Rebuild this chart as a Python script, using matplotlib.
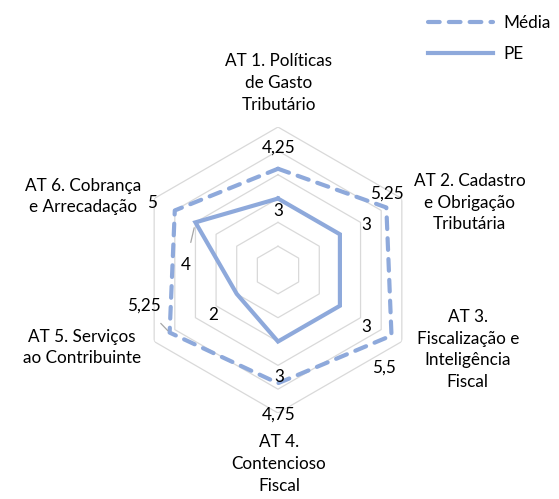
import numpy as np
import matplotlib.pyplot as plt

# dados
categorias = ["AT 1. Políticas\nde Gasto\nTributário",
              "AT 2. Cadastro\ne Obrigação\nTributária",
              "AT 3.\nFiscalização e\nInteligência\nFiscal",
              "AT 4.\nContencioso\nFiscal",
              "AT 5. Serviços\nao Contribuinte",
              "AT 6. Cobrança\ne Arrecadação"]
media = [4.25, 5.25, 5.5, 4.75, 5.25, 5]
pe = [3, 3, 3, 3, 2, 4]
media_txt = ["4,25", "5,25", "5,5", "4,75", "5,25", "5"]
pe_txt = ["3", "3", "3", "3", "2", "4"]
aneis = [1, 2, 3, 4, 5, 6]

plt.rcParams['font.family'] = ['Lato', 'DejaVu Sans']
cor = '#8EA9DB'
fs = 12.3

fig = plt.figure(figsize=(5.59, 4.99), dpi=100)
ax = fig.add_axes([0.2415, 0.1723, 0.5116, 0.5731], projection='polar')
ax.set_theta_offset(np.pi / 2)
ax.set_theta_direction(-1)
ax.set_ylim(0, 6)
ax.grid(False)
ax.set_xticks([])
ax.set_yticks([])
ax.spines['polar'].set_visible(False)
ax.patch.set_alpha(0)

n = len(categorias)
ang = np.linspace(0, 2 * np.pi, n, endpoint=False)
ang_c = np.append(ang, ang[0])

# grade hexagonal
for r in aneis:
    ax.plot(ang_c, [r] * (n + 1), color='#D9D9D9', lw=0.9, zorder=1)

# series
ax.plot(ang_c, media + media[:1], color=cor, lw=3, ls=(0, (2.8, 2.2)),
        dash_capstyle='round', solid_joinstyle='miter', label='Média', zorder=3)
ax.plot(ang_c, pe + pe[:1], color=cor, lw=3, solid_joinstyle='miter',
        label='PE', zorder=3)

px = 0.72  # pixel -> pontos
# rotulos das series (deslocamento em pixels)
off_media = [(1, 21), (1, 14), (-8, -32), (1, -31), (-26, 27), (-23, 7)]
off_pe = [(0, -12), (26, 9), (26, -21), (1, -35), (-24, -21), (-10, -43)]
for i in range(n):
    dx, dy = off_media[i]
    kw = {}
    if i == 4:
        kw = dict(arrowprops=dict(arrowstyle='-', color='#A6A6A6', lw=0.9,
                                  shrinkA=7, shrinkB=2))
    ax.annotate(media_txt[i], (ang[i], media[i]), xytext=(dx * px, dy * px),
                textcoords='offset points', ha='center', va='center',
                fontsize=fs, color='#000000', zorder=5, **kw)
    dx, dy = off_pe[i]
    kw = {}
    if i == 5:
        kw = dict(arrowprops=dict(arrowstyle='-', color='#A6A6A6', lw=0.9,
                                  shrinkA=9, shrinkB=4))
    ax.annotate(pe_txt[i], (ang[i], pe[i]), xytext=(dx * px, dy * px),
                textcoords='offset points', ha='center', va='center',
                fontsize=fs, color='#000000', zorder=5, **kw)

# rotulos das categorias
off_cat = [(1, 44), (68, -4), (66, -8), (1, -51), (-72, -6), (-71, 2)]
for i in range(n):
    dx, dy = off_cat[i]
    ax.annotate(categorias[i], (ang[i], aneis[-1]), xytext=(dx * px, dy * px),
                textcoords='offset points', ha='center', va='center',
                fontsize=fs, linespacing=1.45, color='#000000',
                annotation_clip=False)

fig.legend(loc='upper left', bbox_to_anchor=(0.738, 1.0), frameon=False,
           fontsize=fs, handlelength=3.8, labelspacing=0.85, handletextpad=0.6)

fig.savefig('out.png', dpi=100)
